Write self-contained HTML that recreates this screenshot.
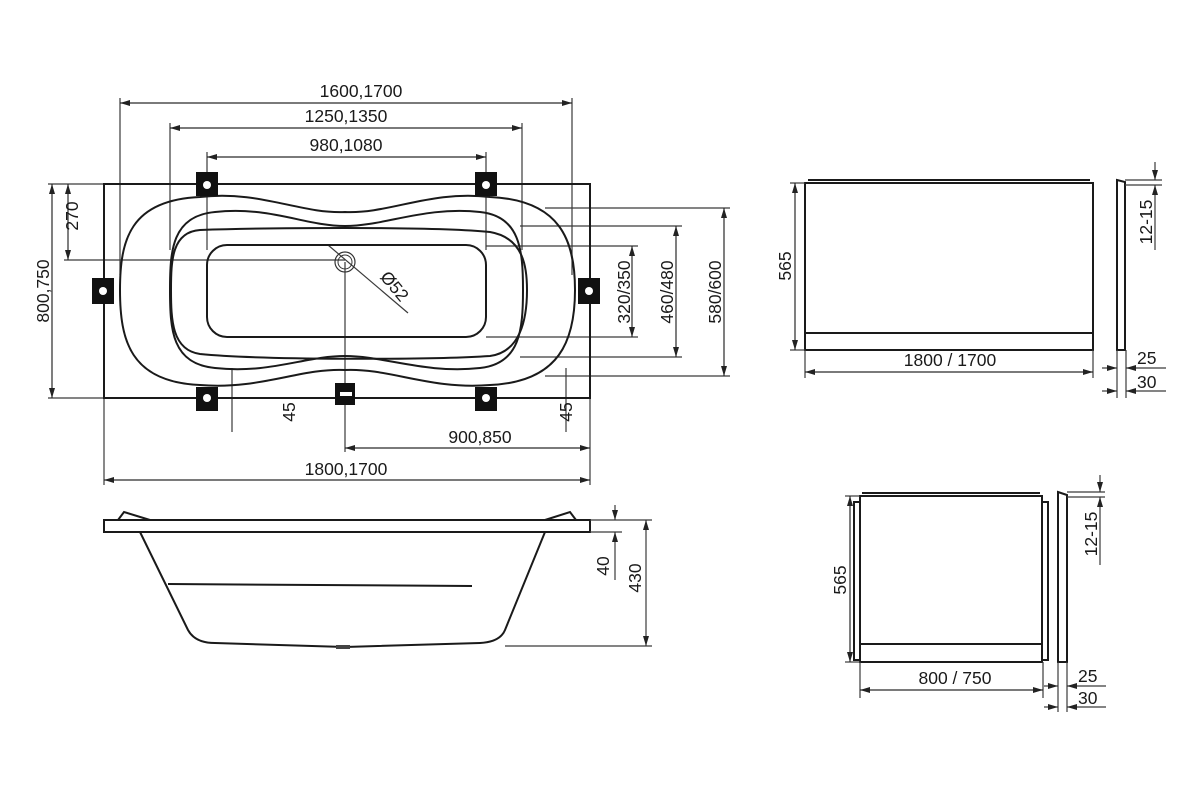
<!DOCTYPE html>
<html><head><meta charset="utf-8"><style>
html,body{margin:0;padding:0;background:#fff}
svg{display:block}
text{font-family:"Liberation Sans",sans-serif;font-size:17.5px;fill:#1a1a1a}
</style></head><body>
<svg width="1200" height="800" viewBox="0 0 1200 800" xmlns="http://www.w3.org/2000/svg">
<defs>
<marker id="a" viewBox="0 0 10 6" refX="10" refY="3" markerWidth="10" markerHeight="6" orient="auto-start-reverse" markerUnits="userSpaceOnUse"><path d="M0,0 L10,3 L0,6 Z" fill="#222"/></marker>
</defs>
<g stroke="#3a3a3a" stroke-width="1.2" fill="none">
<line x1="120" y1="98" x2="120" y2="275"/><line x1="572" y1="98" x2="572" y2="275"/>
<line x1="170" y1="123" x2="170" y2="250"/><line x1="522" y1="123" x2="522" y2="250"/>
<line x1="207" y1="152" x2="207" y2="250"/><line x1="486" y1="152" x2="486" y2="250"/>
<line x1="48" y1="184" x2="104" y2="184"/><line x1="48" y1="398" x2="104" y2="398"/>
<line x1="64" y1="260" x2="345" y2="260"/>
<line x1="486" y1="246" x2="638" y2="246"/><line x1="486" y1="337" x2="638" y2="337"/>
<line x1="520" y1="226" x2="682" y2="226"/><line x1="520" y1="357" x2="682" y2="357"/>
<line x1="545" y1="208" x2="730" y2="208"/><line x1="545" y1="376" x2="730" y2="376"/>
<line x1="345" y1="262" x2="345" y2="452"/>
<line x1="104" y1="398" x2="104" y2="485"/><line x1="590" y1="398" x2="590" y2="485"/>
<line x1="232" y1="368" x2="232" y2="432"/><line x1="566" y1="368" x2="566" y2="432"/>
<line x1="328" y1="245" x2="408" y2="313"/>
</g>
<g stroke="#2a2a2a" stroke-width="1.2" fill="none" marker-start="url(#a)" marker-end="url(#a)">
<line x1="120" y1="103" x2="572" y2="103"/>
<line x1="170" y1="128" x2="522" y2="128"/>
<line x1="207" y1="157" x2="486" y2="157"/>
<line x1="52" y1="184" x2="52" y2="398"/>
<line x1="68" y1="184" x2="68" y2="260"/>
<line x1="632" y1="246" x2="632" y2="337"/>
<line x1="676" y1="226" x2="676" y2="357"/>
<line x1="724" y1="208" x2="724" y2="376"/>
<line x1="345" y1="448" x2="590" y2="448"/>
<line x1="104" y1="480" x2="590" y2="480"/>
</g>
<rect x="104" y="184" width="486" height="214" fill="none" stroke="#1a1a1a" stroke-width="2"/>
<g fill="none" stroke="#1a1a1a" stroke-width="2">
<path d="M200,197 C260,190 300,214 345,212 C390,214 430,190 490,197 C560,200 575,240 575,290 C575,340 560,382 490,385 C430,390 390,368 345,370 C300,368 260,390 200,385 C130,382 120,340 120,290 C120,240 130,200 200,197 Z"/>
<path d="M215,212 C270,206 305,226 345,226 C385,226 425,206 480,212 C520,216 523,250 523,290 C523,330 520,364 480,368 C425,374 385,356 345,356 C305,356 270,374 215,368 C172,364 170,330 170,290 C170,250 172,216 215,212 Z"/>
<path d="M200,230 C260,228 430,226 490,232 C525,238 527,270 527,290 C527,320 520,352 490,356 C430,360 260,360 200,354 C172,350 171,320 171,290 C171,260 172,232 200,230 Z"/>
<rect x="207" y="245" width="279" height="92" rx="20"/>
</g>
<circle cx="345" cy="262" r="10" fill="none" stroke="#333" stroke-width="1.2"/>
<circle cx="345" cy="262" r="7" fill="none" stroke="#333" stroke-width="1"/>
<g fill="#111">
<rect x="196" y="172" width="22" height="24"/><rect x="475" y="172" width="22" height="24"/>
<rect x="196" y="387" width="22" height="24"/><rect x="475" y="387" width="22" height="24"/>
<rect x="92" y="278" width="22" height="26"/><rect x="578" y="278" width="22" height="26"/>
<rect x="335" y="383" width="20" height="22"/>
</g>
<g fill="#fff">
<circle cx="207" cy="185" r="4"/><circle cx="486" cy="185" r="4"/>
<circle cx="207" cy="398" r="4"/><circle cx="486" cy="398" r="4"/>
<circle cx="103" cy="291" r="4"/><circle cx="589" cy="291" r="4"/>
<rect x="340" y="392" width="12" height="4"/>
</g>
<text x="361" y="97" text-anchor="middle">1600,1700</text>
<text x="346" y="122" text-anchor="middle">1250,1350</text>
<text x="346" y="151" text-anchor="middle">980,1080</text>
<text x="480" y="443" text-anchor="middle">900,850</text>
<text x="346" y="475" text-anchor="middle">1800,1700</text>
<text transform="translate(49,291) rotate(-90)" text-anchor="middle">800,750</text>
<text transform="translate(78,216) rotate(-90)" text-anchor="middle">270</text>
<text transform="translate(630,292) rotate(-90)" text-anchor="middle">320/350</text>
<text transform="translate(673,292) rotate(-90)" text-anchor="middle">460/480</text>
<text transform="translate(721,292) rotate(-90)" text-anchor="middle">580/600</text>
<text transform="translate(295,412) rotate(-90)" text-anchor="middle">45</text>
<text transform="translate(572,412) rotate(-90)" text-anchor="middle">45</text>
<text transform="translate(390,290) rotate(50)" text-anchor="middle">Ø52</text>
<g fill="none" stroke="#1a1a1a" stroke-width="2">
<rect x="104" y="520" width="486" height="12"/>
<path d="M140,532 L188,630 Q195,643 215,643 L345,647 L480,643 Q500,642 505,630 L545,532"/>
<line x1="168" y1="584" x2="472" y2="586"/>
<path d="M118,520 L124,512 L150,520"/><path d="M545,520 L570,512 L576,520"/>
</g>
<rect x="336" y="645" width="14" height="4" fill="#444"/>
<g stroke="#3a3a3a" stroke-width="1.2" fill="none">
<line x1="590" y1="520" x2="652" y2="520"/><line x1="590" y1="532" x2="622" y2="532"/>
<line x1="505" y1="646" x2="652" y2="646"/>
<line x1="615" y1="505" x2="615" y2="520" marker-end="url(#a)"/>
<line x1="615" y1="580" x2="615" y2="532" marker-end="url(#a)"/>
<line x1="646" y1="520" x2="646" y2="646" marker-start="url(#a)" marker-end="url(#a)"/>
</g>
<text transform="translate(609,566) rotate(-90)" text-anchor="middle">40</text>
<text transform="translate(641,578) rotate(-90)" text-anchor="middle">430</text>
<g fill="none" stroke="#1a1a1a" stroke-width="2">
<rect x="805" y="183" width="288" height="167"/>
<line x1="808" y1="180" x2="1090" y2="180"/>
<line x1="805" y1="333" x2="1093" y2="333"/>
<path d="M1117,180 L1125,182 L1125,350 L1117,350 Z"/>
<rect x="860" y="496" width="182" height="166"/>
<line x1="862" y1="493" x2="1040" y2="493"/>
<line x1="860" y1="644" x2="1042" y2="644"/>
<rect x="854" y="502" width="6" height="158"/><rect x="1042" y="502" width="6" height="158"/>
<path d="M1058,492 L1067,495 L1067,662 L1058,662 Z"/>
</g>
<g stroke="#3a3a3a" stroke-width="1.2" fill="none">
<line x1="790" y1="183" x2="805" y2="183"/><line x1="790" y1="350" x2="805" y2="350"/>
<line x1="805" y1="350" x2="805" y2="378"/><line x1="1093" y1="350" x2="1093" y2="378"/>
<line x1="1117" y1="350" x2="1117" y2="398"/><line x1="1126" y1="350" x2="1126" y2="398"/>
<line x1="1125" y1="180" x2="1162" y2="180"/><line x1="1125" y1="185" x2="1162" y2="185"/>
<line x1="1155" y1="162" x2="1155" y2="180" marker-end="url(#a)"/>
<line x1="1155" y1="250" x2="1155" y2="185" marker-end="url(#a)"/>
<line x1="1102" y1="368" x2="1117" y2="368" marker-end="url(#a)"/>
<line x1="1166" y1="368" x2="1126" y2="368" marker-end="url(#a)"/>
<line x1="1102" y1="391" x2="1117" y2="391" marker-end="url(#a)"/>
<line x1="1166" y1="391" x2="1126" y2="391" marker-end="url(#a)"/>
<line x1="845" y1="496" x2="860" y2="496"/><line x1="845" y1="662" x2="860" y2="662"/>
<line x1="860" y1="662" x2="860" y2="698"/><line x1="1043" y1="662" x2="1043" y2="698"/>
<line x1="1058" y1="662" x2="1058" y2="712"/><line x1="1067" y1="662" x2="1067" y2="712"/>
<line x1="1067" y1="492" x2="1105" y2="492"/><line x1="1067" y1="497" x2="1105" y2="497"/>
<line x1="1100" y1="475" x2="1100" y2="492" marker-end="url(#a)"/>
<line x1="1100" y1="565" x2="1100" y2="497" marker-end="url(#a)"/>
<line x1="1044" y1="686" x2="1058" y2="686" marker-end="url(#a)"/>
<line x1="1106" y1="686" x2="1067" y2="686" marker-end="url(#a)"/>
<line x1="1044" y1="707" x2="1058" y2="707" marker-end="url(#a)"/>
<line x1="1106" y1="707" x2="1067" y2="707" marker-end="url(#a)"/>
</g>
<g stroke="#2a2a2a" stroke-width="1.2" marker-start="url(#a)" marker-end="url(#a)">
<line x1="795" y1="183" x2="795" y2="350"/>
<line x1="805" y1="372" x2="1093" y2="372"/>
<line x1="850" y1="496" x2="850" y2="662"/>
<line x1="860" y1="690" x2="1043" y2="690"/>
</g>
<text transform="translate(791,266) rotate(-90)" text-anchor="middle">565</text>
<text x="950" y="366" text-anchor="middle">1800 / 1700</text>
<text transform="translate(1152,222) rotate(-90)" text-anchor="middle">12-15</text>
<text x="1137" y="364">25</text>
<text x="1137" y="388">30</text>
<text transform="translate(846,580) rotate(-90)" text-anchor="middle">565</text>
<text x="955" y="684" text-anchor="middle">800 / 750</text>
<text transform="translate(1097,534) rotate(-90)" text-anchor="middle">12-15</text>
<text x="1078" y="682">25</text>
<text x="1078" y="704">30</text>
</svg>
</body></html>
